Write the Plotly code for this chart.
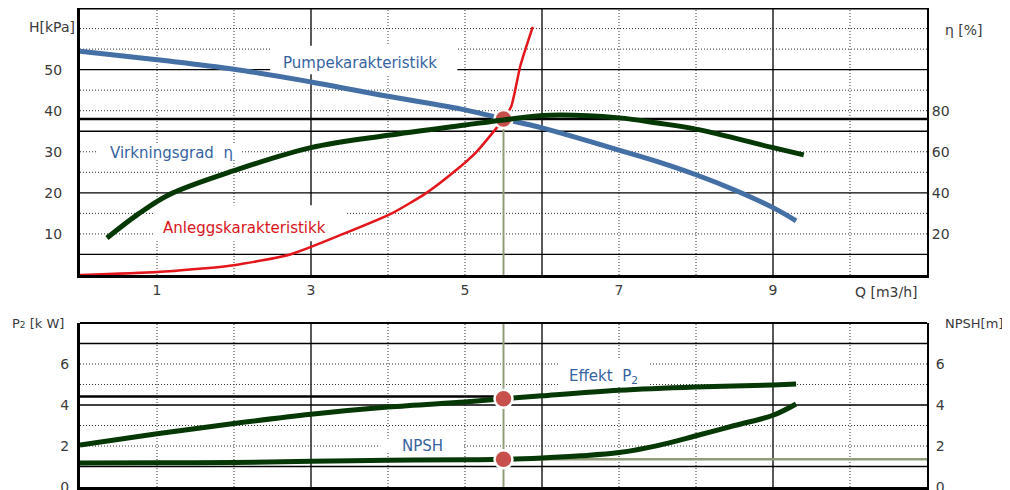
import plotly.graph_objects as go

# ---------------- data ----------------
# Pump characteristic H [kPa] vs Q [m3/h]
q_pump = [0, 1, 2, 3, 4, 5, 5.5, 6, 7, 7.5, 8, 8.5, 9, 9.3]
h_pump = [54.5, 52.4, 50.1, 47.0, 43.5, 40.2, 38.0, 35.8, 30.4, 27.6, 24.4, 20.7, 16.4, 13.2]

# Efficiency eta [%] vs Q
q_eff = [0.35, 0.75, 1.15, 2, 3, 4, 5, 5.5, 6.1, 7, 7.5, 8, 9, 9.4]
eta = [18, 29.5, 39, 50.8, 62, 68, 73, 75.5, 77.8, 76.5, 74, 71, 62, 58.5]

# System characteristic H [kPa] vs Q
q_sys = [0, 1, 2, 2.73, 3.42, 4.05, 4.5, 4.85, 5.15, 5.5, 5.6, 5.72, 5.88]
h_sys = [0, 0.7, 2.4, 5, 10, 15, 20, 25, 30, 38, 41, 51, 60.4]

# Power P2 [kW] vs Q
q_p2 = [0, 1, 2, 3, 4, 5, 5.5, 6, 7, 8, 9, 9.3]
p2 = [2.05, 2.6, 3.1, 3.55, 3.9, 4.15, 4.3, 4.45, 4.72, 4.88, 4.98, 5.02]

# NPSH [m] vs Q
q_npsh = [0, 1, 2, 3, 4, 5, 5.5, 6, 6.5, 7, 7.5, 8, 8.5, 9, 9.3]
npsh = [1.17, 1.18, 1.2, 1.25, 1.3, 1.33, 1.35, 1.42, 1.52, 1.68, 2.02, 2.5, 3.0, 3.5, 4.05]

# Operating point
q_op = 5.5
h_op = 38.0
p2_op = 4.3
p2_line = 4.42
npsh_op = 1.35

# axis tick labels
q_ticks = [1, 3, 5, 7, 9]
h_ticks = [10, 20, 30, 40, 50]
eta_ticks = [20, 40, 60, 80]
p_ticks = [0, 2, 4, 6]

# ---------------- styling ----------------
Q_RANGE = [0, 11]
H_RANGE = [0, 65]
ETA_RANGE = [0, 130]
P_RANGE = [0, 8]
FONT = "DejaVu Sans, Verdana, sans-serif"
BLUE = "#4570a5"
GREEN = "#063806"
RED = "#e3161c"
MARK = "#c8504c"
OLIVE = "#8f9c77"
TXT = "#3a3a3a"
LBLUE = "#3563a0"

fig = go.Figure()

# operating-point guide lines (under the curves)
fig.add_trace(go.Scatter(x=Q_RANGE, y=[h_op, h_op], mode="lines",
                         line=dict(color="black", width=2.5), xaxis="x", yaxis="y", hoverinfo="skip"))
fig.add_trace(go.Scatter(x=[q_op, q_op], y=[H_RANGE[0], h_op], mode="lines",
                         line=dict(color=OLIVE, width=2), xaxis="x", yaxis="y", hoverinfo="skip"))
fig.add_trace(go.Scatter(x=[q_op, q_op], y=[P_RANGE[0], P_RANGE[1]], mode="lines",
                         line=dict(color=OLIVE, width=2), xaxis="x2", yaxis="y3", hoverinfo="skip"))
fig.add_trace(go.Scatter(x=[Q_RANGE[0], q_op], y=[p2_line, p2_line], mode="lines",
                         line=dict(color="black", width=2.5), xaxis="x2", yaxis="y3", hoverinfo="skip"))
fig.add_trace(go.Scatter(x=[q_op, Q_RANGE[1]], y=[npsh_op, npsh_op], mode="lines",
                         line=dict(color=OLIVE, width=2.5), xaxis="x2", yaxis="y4", hoverinfo="skip"))

# curves
fig.add_trace(go.Scatter(x=q_eff, y=eta, mode="lines", line=dict(color=GREEN, width=5, shape="spline"),
                         xaxis="x", yaxis="y2", name="Virkningsgrad"))
fig.add_trace(go.Scatter(x=q_sys, y=h_sys, mode="lines", line=dict(color=RED, width=2.5, shape="spline", smoothing=0.6),
                         xaxis="x", yaxis="y", name="Anleggskarakteristikk"))
fig.add_trace(go.Scatter(x=q_pump, y=h_pump, mode="lines", line=dict(color=BLUE, width=5, shape="spline"),
                         xaxis="x", yaxis="y", name="Pumpekarakteristikk"))
fig.add_trace(go.Scatter(x=q_p2, y=p2, mode="lines", line=dict(color=GREEN, width=5, shape="spline"),
                         xaxis="x2", yaxis="y3", name="Effekt P2"))
fig.add_trace(go.Scatter(x=q_npsh, y=npsh, mode="lines", line=dict(color=GREEN, width=5, shape="spline"),
                         xaxis="x2", yaxis="y4", name="NPSH"))

# operating point markers
mk = dict(color=MARK, size=18, line=dict(color="white", width=2.5))
fig.add_trace(go.Scatter(x=[q_op], y=[h_op], mode="markers", marker=mk, xaxis="x", yaxis="y"))
fig.add_trace(go.Scatter(x=[q_op], y=[p2_op], mode="markers", marker=mk, xaxis="x2", yaxis="y3"))
fig.add_trace(go.Scatter(x=[q_op], y=[npsh_op], mode="markers", marker=mk, xaxis="x2", yaxis="y4"))

# ---------------- grid (shapes) ----------------
shapes = []
Q_MAJOR = [3, 6, 9]
Q_MINOR = [1, 2, 4, 5, 7, 8, 10]
H_MAJOR = [5, 20, 35, 50]
H_MINOR = [10, 15, 25, 30, 40, 45, 55, 60]
P_MAJOR = [1, 4, 7]
P_MINOR = [2, 3, 5, 6]
DOT = dict(color="#333333", width=1, dash="1px,2px")
SOL = dict(color="black", width=1.3)

for xr, yr in (("x", "y"), ("x2", "y3")):
    for q in Q_MINOR:
        shapes.append(dict(type="line", xref=xr, yref=yr + " domain", x0=q, x1=q, y0=0, y1=1, line=DOT, layer="below"))
    for q in Q_MAJOR:
        shapes.append(dict(type="line", xref=xr, yref=yr + " domain", x0=q, x1=q, y0=0, y1=1, line=SOL, layer="below"))
for h in H_MINOR:
    shapes.append(dict(type="line", xref="x domain", yref="y", x0=0, x1=1, y0=h, y1=h, line=DOT, layer="below"))
for h in H_MAJOR:
    shapes.append(dict(type="line", xref="x domain", yref="y", x0=0, x1=1, y0=h, y1=h, line=SOL, layer="below"))
for p in P_MINOR:
    shapes.append(dict(type="line", xref="x2 domain", yref="y3", x0=0, x1=1, y0=p, y1=p, line=DOT, layer="below"))
for p in P_MAJOR:
    shapes.append(dict(type="line", xref="x2 domain", yref="y3", x0=0, x1=1, y0=p, y1=p, line=SOL, layer="below"))

# white boxes behind the curve labels (hide grid, not curves)
label_boxes = [
    ("x", "y", 2.47, 4.90, 48.9, 55.8),
    ("x", "y", 0.22, 2.08, 28.0, 32.0),
    ("x", "y", 0.95, 3.45, 8.2, 17.0),
    ("x2", "y3", 6.22, 7.38, 4.95, 6.2),
    ("x2", "y3", 3.90, 4.97, 1.7, 2.35),
]
for xr, yr, xa, xb, ya, yb in label_boxes:
    shapes.append(dict(type="rect", xref=xr, yref=yr, x0=xa, x1=xb, y0=ya, y1=yb,
                       fillcolor="white", line=dict(width=0), layer="below"))

# top borders of both panels
for xr, yr, w in (("x", "y", 3), ("x2", "y3", 2)):
    shapes.append(dict(type="line", xref=xr + " domain", yref=yr + " domain", x0=0, x1=1, y0=1, y1=1,
                       line=dict(color="black", width=w), layer="above"))

# ---------------- labels ----------------
lab = dict(showarrow=False, font=dict(family=FONT, size=15, color=LBLUE))
ann = [
    dict(text="Pumpekarakteristikk", x=3.64, y=51.6, xref="x", yref="y", **lab),
    dict(text="Virkningsgrad  η", x=1.19, y=29.7, xref="x", yref="y", **lab),
    dict(text="Anleggskarakteristikk", x=2.14, y=11.4, xref="x", yref="y",
         showarrow=False, font=dict(family=FONT, size=15, color="#d8141a")),
    dict(text="Effekt  P<sub>2</sub>", x=6.8, y=5.37, xref="x2", yref="y3", **lab),
    dict(text="NPSH", x=4.45, y=2.0, xref="x2", yref="y3", **lab),
]
tfont = dict(family=FONT, size=14, color=TXT)
sfont = dict(family=FONT, size=13, color=TXT)
ann += [
    dict(text="H[kPa]", x=-0.0035, y=0.981, xref="paper", yref="paper", xanchor="right", showarrow=False, font=tfont),
    dict(text="η [%]", x=1.0189, y=0.975, xref="paper", yref="paper", xanchor="left", showarrow=False, font=tfont),
    dict(text="Q [m3/h]", x=0.9126, y=0.4071, xref="paper", yref="paper", xanchor="left", showarrow=False, font=tfont),
    dict(text='P<span style="font-size:9px">2</span> [k W]', x=-0.0165, y=0.3215, xref="paper", yref="paper",
         xanchor="right", showarrow=False, font=sfont),
    dict(text="NPSH[m]", x=1.0189, y=0.3215, xref="paper", yref="paper", xanchor="left", showarrow=False, font=sfont),
]

tick_font = dict(family=FONT, size=14, color=TXT)
common = dict(showgrid=False, zeroline=False, automargin=False, tickfont=tick_font, ticks="outside",
              tickcolor="rgba(0,0,0,0)", fixedrange=True, ticklabeloverflow="allow")

# The page body has an 8px margin, so the figure is sized/offset to land on the 1010x490 frame.
fig.update_layout(
    width=1002, height=482,
    margin=dict(l=72, r=83, t=0, b=3),
    paper_bgcolor="white", plot_bgcolor="white",
    showlegend=False,
    shapes=shapes, annotations=ann,
    xaxis=dict(domain=[0, 1], range=Q_RANGE, anchor="y", tickvals=q_ticks, ticklen=0,
               showline=True, linecolor="black", linewidth=3, **common),
    yaxis=dict(domain=[0.4426, 1], range=H_RANGE, anchor="x", tickvals=h_ticks, ticklen=12,
               showline=True, linecolor="black", linewidth=3, **common),
    yaxis2=dict(overlaying="y", side="right", range=ETA_RANGE, anchor="x", tickvals=eta_ticks, ticklen=0,
                showline=True, linecolor="black", linewidth=2, **common),
    xaxis2=dict(domain=[0, 1], range=Q_RANGE, anchor="y3", showticklabels=False,
                showline=True, linecolor="black", linewidth=3, **{**common, "ticks": ""}),
    yaxis3=dict(domain=[0, 0.3424], range=P_RANGE, anchor="x2", tickvals=p_ticks, ticklen=5,
                showline=True, linecolor="black", linewidth=3, **common),
    yaxis4=dict(overlaying="y3", side="right", range=P_RANGE, anchor="x2", tickvals=p_ticks, ticklen=4,
                showline=True, linecolor="black", linewidth=2, **common),
)

fig.write_html("out.html")
